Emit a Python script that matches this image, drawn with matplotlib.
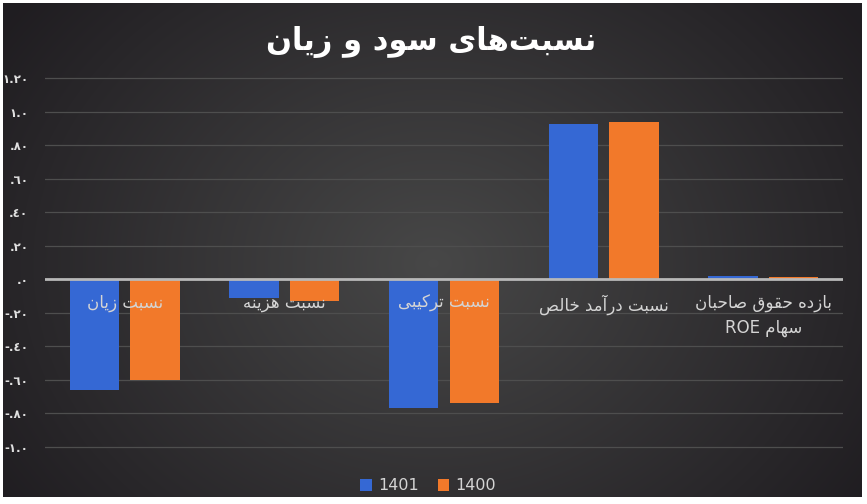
import numpy as np
import matplotlib
matplotlib.use("Agg")
import matplotlib.pyplot as plt

# chart data
categories = ["نسبت زیان", "نسبت هزینه", "نسبت ترکیبی", "نسبت درآمد خالص", "بازده حقوق صاحبان\nسهام ROE"]
series_names = ["1401", "1400"]
values_1401 = [-0.66, -0.11, -0.77, 0.925, 0.02]
values_1400 = [-0.60, -0.13, -0.74, 0.94, 0.015]
tick_values = [1.2, 1.0, 0.8, 0.6, 0.4, 0.2, 0.0, -0.2, -0.4, -0.6, -0.8, -1.0]
tick_labels = ["١.٢٠", "١.٠", ".٨٠", ".٦٠", ".٤٠", ".٢٠", ".٠",
               "-.٢٠", "-.٤٠", "-.٦٠", "-.٨٠", "-١.٠"]
title = "نسبت‌های سود و زیان"

# --- tiny persian shaper: matplotlib draws no joined letters by itself ---
# letter: (isolated, final, initial, medial); 2-tuples join only on the right
FORMS = {
    "ا": (0xFE8D, 0xFE8E), "آ": (0xFE81, 0xFE82),
    "د": (0xFEA9, 0xFEAA), "ر": (0xFEAD, 0xFEAE), "ز": (0xFEAF, 0xFEB0),
    "و": (0xFEED, 0xFEEE),
    "ب": (0xFE8F, 0xFE90, 0xFE91, 0xFE92), "ت": (0xFE95, 0xFE96, 0xFE97, 0xFE98),
    "ح": (0xFEA1, 0xFEA2, 0xFEA3, 0xFEA4), "خ": (0xFEA5, 0xFEA6, 0xFEA7, 0xFEA8),
    "س": (0xFEB1, 0xFEB2, 0xFEB3, 0xFEB4), "ص": (0xFEB9, 0xFEBA, 0xFEBB, 0xFEBC),
    "ق": (0xFED5, 0xFED6, 0xFED7, 0xFED8), "ک": (0xFB8E, 0xFB8F, 0xFB90, 0xFB91),
    "ل": (0xFEDD, 0xFEDE, 0xFEDF, 0xFEE0), "م": (0xFEE1, 0xFEE2, 0xFEE3, 0xFEE4),
    "ن": (0xFEE5, 0xFEE6, 0xFEE7, 0xFEE8), "ه": (0xFEE9, 0xFEEA, 0xFEEB, 0xFEEC),
    "ی": (0xFBFC, 0xFBFD, 0xFBFE, 0xFBFF),
}


def shape_word(word):
    out = []
    n = len(word)
    for i, ch in enumerate(word):
        if ch not in FORMS:
            if ch != "\u200c":
                out.append(ch)
            continue
        f = FORMS[ch]
        prev = word[i - 1] if i > 0 else ""
        nxt = word[i + 1] if i < n - 1 else ""
        join_prev = prev in FORMS and len(FORMS[prev]) == 4
        join_next = len(f) == 4 and nxt in FORMS
        if join_prev and join_next:
            out.append(chr(f[3]))
        elif join_prev:
            out.append(chr(f[1]))
        elif join_next:
            out.append(chr(f[2]))
        else:
            out.append(chr(f[0]))
    return "".join(out)


def fa(text):
    lines = []
    for line in text.split("\n"):
        words = line.split(" ")
        shaped = []
        for w in words:
            if any(c in FORMS for c in w):
                shaped.append(shape_word(w)[::-1])
            else:
                shaped.append(w)
        lines.append(" ".join(shaped[::-1]))
    return "\n".join(lines)


plt.rcParams["font.family"] = ["DejaVu Sans"]

W, H = 867, 504
fig = plt.figure(figsize=(W / 100, H / 100), dpi=100)
fig.patch.set_facecolor("white")

# dark background with a soft radial glow
bg = fig.add_axes([3 / W, 7 / H, 859 / W, 494 / H])
yy, xx = np.mgrid[0:494, 0:859]
r = np.sqrt(((xx - 430) / 520.0) ** 2 + ((yy - 260) / 420.0) ** 2)
r = np.clip(r, 0, 1)
c0 = np.array([0.28, 0.28, 0.28])
c1 = np.array([0.125, 0.115, 0.13])
img = c0[None, None, :] * (1 - r[..., None]) + c1[None, None, :] * r[..., None]
bg.imshow(img, aspect="auto", interpolation="bilinear")
bg.axis("off")

ax = fig.add_axes([45 / W, 1 - 460 / H, 798 / W, 392 / H])
ax.set_facecolor("none")
x = np.arange(len(categories))
width = 0.31
off = 0.19
ax.bar(x - off, values_1401, width, color="#3568d4", label=series_names[0], zorder=3)
ax.bar(x + off, values_1400, width, color="#f2792a", label=series_names[1], zorder=3)

ax.set_xlim(-0.5, len(categories) - 0.5)
ax.set_ylim(-1.08, 1.26)
ax.set_yticks(tick_values)
ax.set_yticklabels(tick_labels, color="#e0e0e0", fontsize=8.5, fontweight="bold")
ax.tick_params(axis="y", length=0, pad=12)
ax.set_xticks([])
for s in ax.spines.values():
    s.set_visible(False)
for t in tick_values:
    if t != 0:
        ax.axhline(t, color="#4e4e4e", lw=0.9, zorder=1)
ax.axhline(0, color="#b8b8b8", lw=2.0, zorder=4)

for i, cat in enumerate(categories):
    ax.text(i, -0.09, fa(cat), ha="center", va="top", color="#d4d4d4",
            fontsize=12, zorder=5, linespacing=1.45)

fig.text(0.497, 1 - 42 / H, fa(title), ha="center", va="center", color="white",
         fontsize=22, fontweight="bold")

handles, labels = ax.get_legend_handles_labels()
leg = fig.legend(handles, labels, loc="center", bbox_to_anchor=(0.494, 1 - 486 / H),
                 ncol=2, frameon=False, fontsize=11.5, handlelength=0.7,
                 handleheight=0.7, columnspacing=1.2, handletextpad=0.4)
for t in leg.get_texts():
    t.set_color("#d4d4d4")

fig.savefig("out.png", dpi=100, facecolor=fig.get_facecolor())
